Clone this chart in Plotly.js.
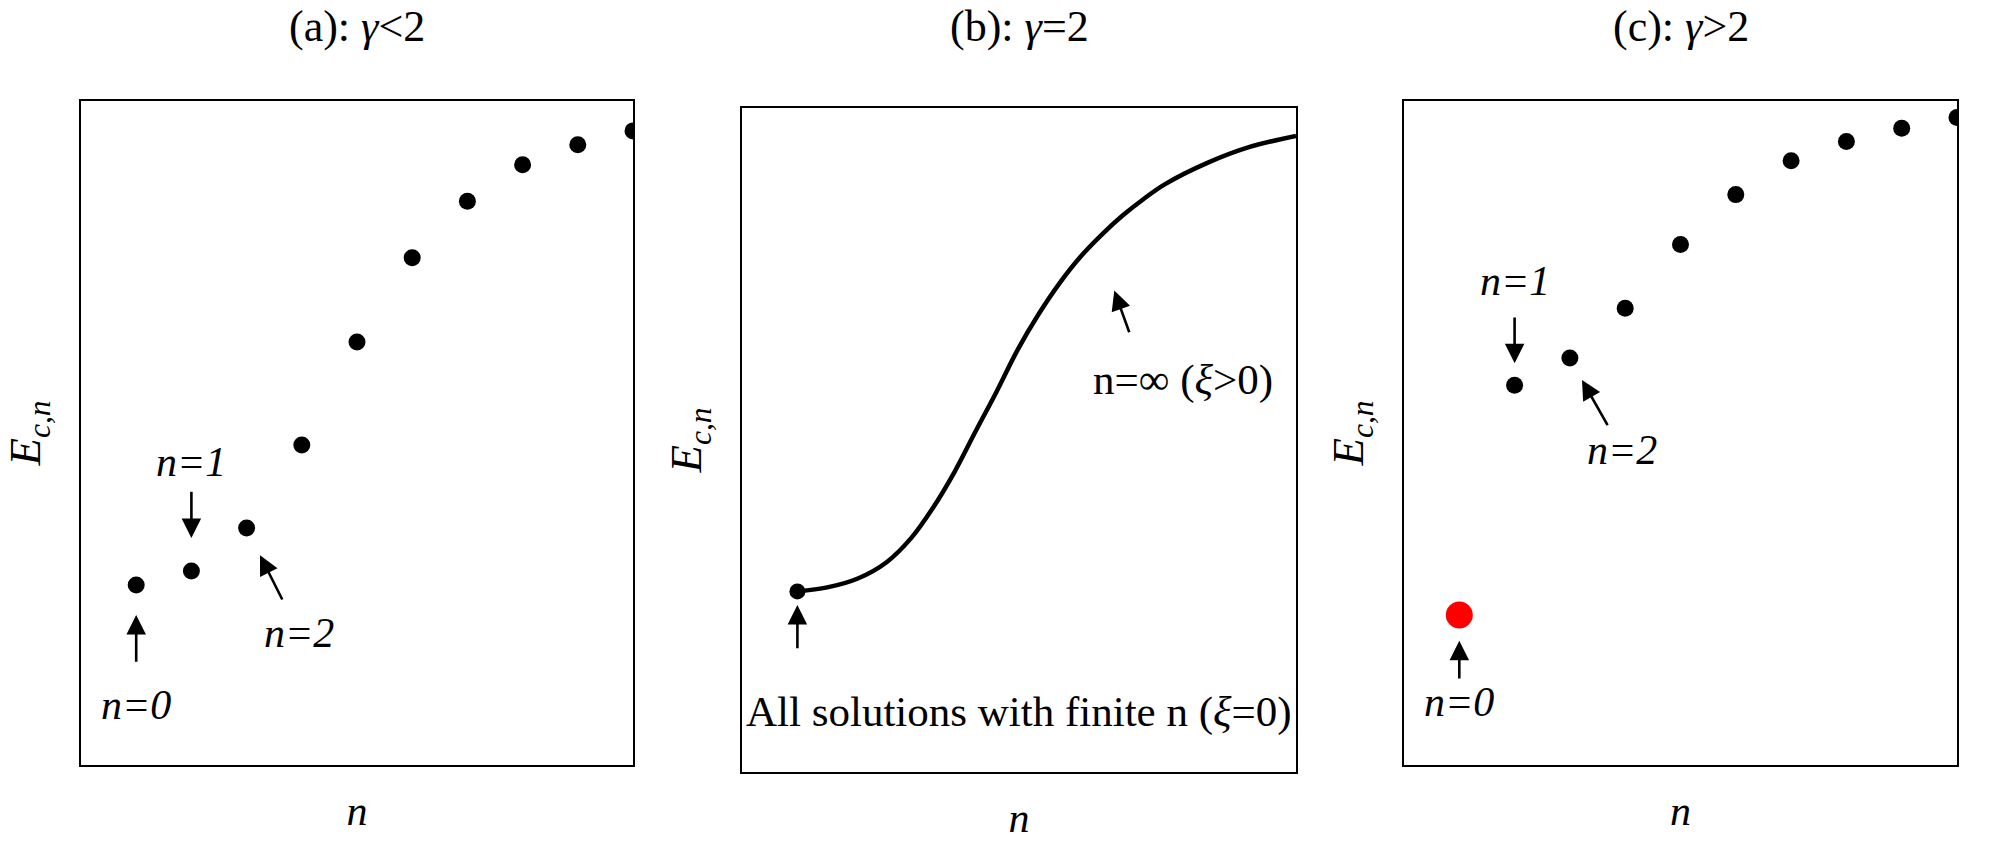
<!DOCTYPE html>
<html><head><meta charset="utf-8">
<script src="https://cdn.plot.ly/plotly-3.0.1.min.js"></script>
<style>html,body{margin:0;padding:0;background:#fff}#chart{width:1990px;height:850px}</style>
</head><body><div id="chart"></div>
<script>
// Panel (a): gamma < 2
const nA = [0, 1, 2, 3, 4, 5, 6, 7, 8, 9];
const EA = [0.271, 0.292, 0.357, 0.482, 0.637, 0.764, 0.849, 0.904, 0.934, 0.955];
// Panel (b): gamma = 2 (continuous branch, n = infinity)
const nB = [0, 0.54, 1.08, 1.61, 2.06, 2.44, 2.83, 3.21, 3.59, 3.97, 4.35, 4.73, 5.11, 5.49, 5.87, 6.25, 6.63, 7.39, 8.15, 9.0];
const EB = [0.272, 0.278, 0.291, 0.316, 0.353, 0.397, 0.451, 0.512, 0.572, 0.635, 0.689, 0.736, 0.776, 0.809, 0.838, 0.863, 0.885, 0.917, 0.941, 0.958];
const nB0 = [0];
const EB0 = [0.272];
// Panel (c): gamma > 2
const nC = [1, 2, 3, 4, 5, 6, 7, 8, 9];
const EC = [0.572, 0.613, 0.688, 0.784, 0.859, 0.910, 0.939, 0.959, 0.975];
const nC0 = [0];
const EC0 = [0.226];

const panelTitles = ['(a): <i>γ</i>&lt;2', '(b): <i>γ</i>=2', '(c): <i>γ</i>&gt;2'];
const xLabel = '<i>n</i>';
const yLabel = '<i>E</i><sub><i>c,n</i></sub>';

const FONT = 'Liberation Serif, Times New Roman, serif';

const traces = [
  {x: nA, y: EA, xaxis: 'x', yaxis: 'y', mode: 'markers', type: 'scatter',
   marker: {size: 17, color: 'black'}, hoverinfo: 'skip'},
  {x: nB, y: EB, xaxis: 'x2', yaxis: 'y2', mode: 'lines', type: 'scatter',
   line: {color: 'black', width: 4.5, shape: 'spline', smoothing: 1}, hoverinfo: 'skip'},
  {x: nB0, y: EB0, xaxis: 'x2', yaxis: 'y2', mode: 'markers', type: 'scatter',
   marker: {size: 16, color: 'black'}, hoverinfo: 'skip'},
  {x: nC, y: EC, xaxis: 'x3', yaxis: 'y3', mode: 'markers', type: 'scatter',
   marker: {size: 17, color: 'black'}, hoverinfo: 'skip'},
  {x: nC0, y: EC0, xaxis: 'x3', yaxis: 'y3', mode: 'markers', type: 'scatter',
   marker: {size: 27, color: '#ff0000'}, hoverinfo: 'skip'}
];

function xax(domain, anchor) {
  return {domain: domain, anchor: anchor, range: [-1, 9], showline: true, mirror: true,
    linecolor: 'black', linewidth: 2, showgrid: false, zeroline: false,
    showticklabels: false, ticks: '',
    title: {text: xLabel, font: {size: 42, family: FONT}, standoff: 30}};
}
function yax(domain, anchor) {
  return {domain: domain, anchor: anchor, range: [0, 1], showline: true, mirror: true,
    linecolor: 'black', linewidth: 2, showgrid: false, zeroline: false,
    showticklabels: false, ticks: '',
    title: {text: yLabel, font: {size: 45, family: FONT}, standoff: 24}};
}

const W = 1990, H = 850;
const dA = [81 / W, 633 / W], dB = [742 / W, 1296 / W], dC = [1404 / W, 1957 / W];
const vA = [85 / H, 749 / H], vB = [78 / H, 742 / H];

const ARROW = {showarrow: true, arrowhead: 2, arrowsize: 1.5, arrowwidth: 2.6, arrowcolor: 'black'};

// label with its arrow: text centred at (tx, ty), arrow tip at (hx, hy)
function pointer(xr, yr, tx, ty, hx, hy, text, gap) {
  return Object.assign({xref: xr, yref: yr, axref: xr, ayref: yr, x: hx, y: hy, ax: tx, ay: ty,
    text: text, borderpad: 0, startstandoff: gap,
    font: {size: 42, family: FONT, color: 'black'}}, ARROW);
}
function arrow(xr, yr, hx, hy, tx, ty) {
  return Object.assign({xref: xr, yref: yr, axref: xr, ayref: yr, x: hx, y: hy, ax: tx, ay: ty,
    text: ''}, ARROW);
}
function label(xr, yr, x, y, text, size) {
  return {xref: xr, yref: yr, x: x, y: y, text: text, showarrow: false,
    font: {size: size || 42, family: FONT, color: 'black'}, xanchor: 'center', yanchor: 'middle'};
}
function ptitle(dom, text) {
  return {xref: 'paper', yref: 'paper', x: (dom[0] + dom[1]) / 2, y: 1 - 26 / H, text: text,
    showarrow: false, font: {size: 44, family: FONT}, xanchor: 'center', yanchor: 'middle'};
}

const annotations = [
  ptitle(dA, panelTitles[0]), ptitle(dB, panelTitles[1]), ptitle(dC, panelTitles[2]),
  // panel (a)
  pointer('x', 'y', 0, 0.090, 0, 0.226, '<i>n=0</i>', 20),
  pointer('x', 'y', 1, 0.456, 1, 0.342, '<i>n=1</i>', 6),
  pointer('x', 'y', 2.95, 0.199, 2.243, 0.316, '<i>n=2</i>', 11),
  // panel (b)
  label('x2', 'y2', 4.0, 0.090, 'All solutions with finite n (<i>ξ</i>=0)', 43),
  arrow('x2', 'y2', 0, 0.2515, 0, 0.184),
  label('x2', 'y2', 6.96, 0.590, 'n=∞ (<i>ξ</i>&gt;0)', 43),
  arrow('x2', 'y2', 5.72, 0.725, 6.0, 0.660),
  // panel (c)
  pointer('x3', 'y3', 0, 0.095, 0, 0.187, '<i>n=0</i>', 0),
  pointer('x3', 'y3', 1, 0.729, 1, 0.605, '<i>n=1</i>', 13),
  pointer('x3', 'y3', 2.94, 0.474, 2.219, 0.580, '<i>n=2</i>', 2)
];

const layout = {
  width: W, height: H,
  margin: {l: 0, r: 0, t: 0, b: 0},
  paper_bgcolor: 'white', plot_bgcolor: 'white',
  font: {family: FONT, color: 'black', size: 30},
  showlegend: false,
  xaxis: xax(dA, 'y'), yaxis: yax(vA, 'x'),
  xaxis2: xax(dB, 'y2'), yaxis2: yax(vB, 'x2'),
  xaxis3: xax(dC, 'y3'), yaxis3: yax(vA, 'x3'),
  annotations: annotations
};

Plotly.newPlot('chart', traces, layout, {staticPlot: true, displayModeBar: false});
</script>
</body></html>
